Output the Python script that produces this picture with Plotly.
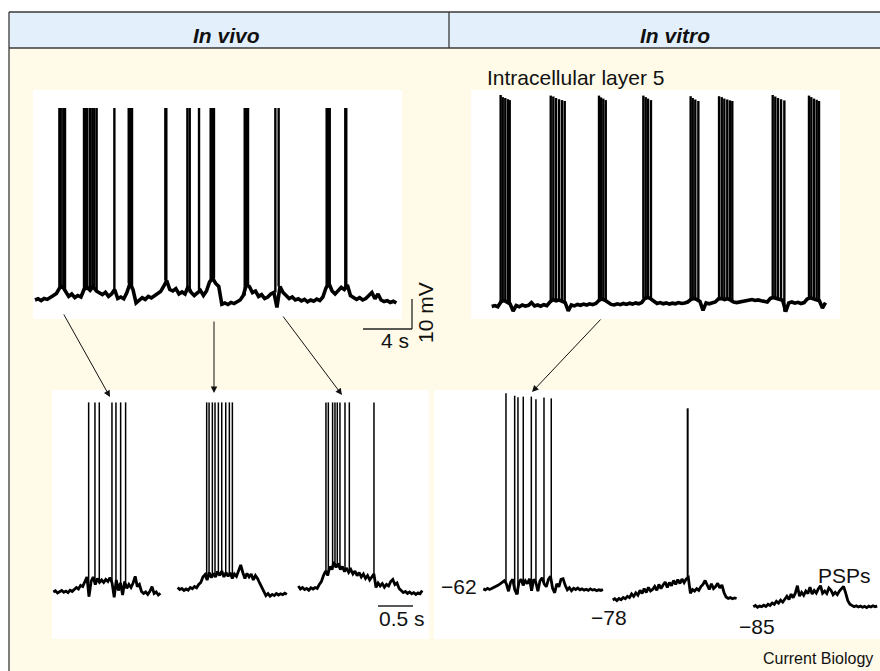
import plotly.graph_objects as go

W, H = 880, 671
FONT = "Liberation Sans, Arial, sans-serif"

# ---------------- DATA (time in s, membrane potential in mV) ----------------
# In vivo, overview trace (sampled every 0.25 s)
vivo_overview_dt = 0.25
vivo_overview_v = [
    -65.0, -64.6, -65.2, -64.5, -64.8, -64.0, -63.5, -62.8, -61.0, -60.5,
    -62.0, -63.8, -63.0, -64.2, -63.5, -64.0, -61.5, -60.8, -61.8, -60.5,
    -62.0, -62.5, -63.2, -62.4, -63.8, -63.0, -61.5, -64.5, -64.0, -64.6,
    -62.5, -59.5, -61.5, -66.0, -65.2, -64.2, -64.8, -63.8, -64.3, -63.6,
    -63.0, -62.2, -60.5, -58.5, -61.5, -62.0, -61.2, -63.0, -62.3, -63.0,
    -60.5, -62.5, -63.5, -62.5, -61.8, -63.5, -62.0, -59.0, -57.8, -59.5,
    -60.5, -66.4, -66.0, -66.5, -65.8, -66.2, -65.5, -65.0, -63.5, -60.0,
    -60.5, -62.5, -62.0, -63.8, -63.2, -64.5, -64.0, -63.0, -62.5, -67.5,
    -60.5, -62.5, -63.5, -64.5, -64.0, -65.0, -64.6, -65.3, -64.8, -65.6,
    -65.0, -65.4, -64.7, -65.2, -64.0, -61.0, -59.5, -62.0, -63.0, -62.0,
    -60.8, -61.5, -60.0, -63.5, -64.0, -64.8, -64.2, -65.0, -64.5, -63.5,
    -62.5, -64.6, -63.0, -65.0, -65.5, -65.2, -65.8, -65.4, -66.0,
]
vivo_overview_spikes = [
    1.99, 2.10, 2.31, 2.45,
    4.00, 4.14, 4.27, 4.49, 4.68, 4.84, 5.03,
    6.48,
    7.65, 7.78, 7.92,
    10.64, 10.72,
    12.44, 12.63,
    13.39,
    14.34, 14.47, 14.61,
    17.12, 17.25, 17.39,
    19.62, 19.89,
    23.81, 23.92, 24.06,
    25.33, 25.41,
]
vivo_overview_peak = -1.0

# In vitro, intracellular layer 5 overview (sampled every 0.25 s)
vitro_overview_dt = 0.25
vitro_overview_v = [
    -65.5, -65.2, -65.6,
    -64.0, -63.5, -64.2, -64.6,
    -67.0,
    -65.2, -65.6, -65.0, -65.4, -65.1, -64.2, -65.3, -65.0, -65.4, -64.9, -65.2,
    -64.0, -63.2, -63.6, -63.3, -63.8, -64.2,
    -67.0,
    -65.0, -65.3, -64.8, -65.1, -64.7, -65.0, -64.6, -64.9, -64.5,
    -63.5, -63.0, -63.4, -64.0,
    -64.8, -65.0, -64.6, -64.9, -64.5, -64.8, -64.4, -64.7, -64.3, -64.6, -64.2,
    -62.8, -62.5, -63.0, -63.8,
    -64.5, -64.2, -64.6, -64.3, -64.7, -64.4, -64.6, -64.2, -64.5, -64.3, -64.0,
    -63.2, -62.8, -63.2, -63.8,
    -66.8,
    -64.3, -64.6, -64.2, -64.0,
    -63.0, -62.8, -63.2, -62.9, -63.4, -64.0,
    -64.2, -64.0, -63.8, -63.6, -63.4, -63.2, -63.5, -63.3, -63.6, -63.8, -64.0,
    -62.8, -62.5, -62.8, -63.0, -63.4,
    -67.2,
    -64.3, -64.0, -64.4, -64.1, -64.5, -64.2,
    -63.0, -62.6, -62.9, -63.2, -63.6,
    -66.0,
    -64.2,
]
vitro_overview_spikes = [
    0.73, 0.90, 1.11, 1.33, 1.47,
    4.82, 5.03, 5.25, 5.50, 5.74, 5.96,
    8.76, 8.92, 9.11, 9.31,
    12.38, 12.57, 12.76, 13.00,
    16.24, 16.41, 16.62, 16.87,
    18.56, 18.78, 18.99, 19.23, 19.45, 19.64,
    22.94, 23.15, 23.37, 23.62, 23.89,
    25.90, 26.09, 26.31, 26.53, 26.72,
]
vitro_overview_peaks = [
    5.0, 4.3, 4.0, 3.6, 3.3,
    4.8, 4.5, 4.0, 3.6, 3.3, 3.0,
    4.8, 4.2, 3.8, 3.3,
    4.8, 4.3, 3.8, 3.3,
    4.6, 4.0, 3.5, 3.0,
    4.6, 4.3, 3.8, 3.5, 3.2, 3.0,
    5.0, 4.5, 4.0, 3.6, 3.2,
    4.8, 4.3, 3.8, 3.4, 3.0,
]

# In vivo, expanded up-states (sampled every 0.03 s)
vivo_zoom_dt = 0.03
vivo_zoom1_v = [
    -65.0, -64.6, -65.3, -65.0, -64.5, -65.1, -64.7, -65.2, -64.4, -64.8,
    -64.0, -63.5, -64.0, -62.8, -63.2, -61.5, -60.0, -66.5, -61.5, -60.0,
    -62.5, -60.5, -61.8, -61.0, -61.8, -60.8, -61.5, -60.2, -62.0, -66.8,
    -61.0, -64.5, -62.0, -66.0, -61.5, -63.8, -62.5, -63.5, -62.0, -59.8,
    -63.2, -62.5, -64.8, -65.5, -65.0, -65.8, -64.8, -63.2, -65.5, -65.0,
    -66.0, -65.4,
]
vivo_zoom1_spikes = [0.505, 0.595, 0.657, 0.838, 0.895, 0.962, 1.033]
vivo_zoom2_v = [
    -63.5, -64.2, -63.8, -64.5, -64.0, -64.4, -63.5, -63.9, -63.2, -63.6,
    -62.5, -61.8, -60.0, -59.2, -61.0, -58.5, -60.2, -58.8, -60.0, -58.2,
    -59.5, -58.0, -60.0, -58.5, -59.8, -58.6, -60.5, -59.0, -59.8, -58.0,
    -56.0, -58.5, -60.5, -58.8, -60.0, -59.0, -61.0, -59.5, -60.5, -62.0,
    -63.5, -64.5, -66.2, -65.5, -66.4, -65.8, -66.2, -65.5, -66.0, -65.6,
    -65.9, -65.4, -65.8,
]
vivo_zoom2_spikes = [0.414, 0.448, 0.495, 0.533, 0.581, 0.629, 0.686, 0.738, 0.781]
vivo_zoom3_v = [
    -63.0, -64.0, -63.5, -64.2, -63.8, -64.4, -63.6, -64.0, -63.5, -63.8,
    -62.5, -61.5, -59.5, -58.0, -59.5, -56.5, -57.5, -55.0, -56.8, -55.5,
    -57.5, -56.5, -58.2, -57.0, -58.5, -57.5, -59.0, -58.0, -59.6, -58.5,
    -60.0, -59.0, -60.5, -59.5, -61.0, -59.8, -59.0, -63.5, -62.0, -63.0,
    -62.2, -63.4, -62.5, -63.0, -61.5, -60.8, -62.5, -62.0, -63.8, -64.5,
    -65.2, -64.8, -65.5, -65.0, -65.6, -65.2, -65.8, -65.3, -65.6, -64.5,
]
vivo_zoom3_spikes = [0.395, 0.429, 0.490, 0.524, 0.557, 0.595, 0.667, 0.729, 1.081]
vivo_zoom_peak = -1.8

# In vitro, expanded at three holding potentials (sampled every 0.03 s)
vitro_zoom_dt = 0.03
vitro_rest_labels = ["\u221262", "\u221278", "\u221285"]
vitro_m62_v = [
    -62.2, -62.5, -62.0, -62.4, -62.1, -61.8, -61.5, -61.0, -60.5, -60.0,
    -59.5, -60.5, -63.0, -60.0, -59.0, -62.5, -64.0, -60.0, -59.0, -61.0,
    -59.5, -60.5, -58.8, -62.8, -59.0, -60.0, -63.0, -59.5, -58.5, -60.5,
    -61.5, -59.0, -58.0, -62.0, -63.5, -60.5, -61.5, -59.0, -58.8, -61.0,
    -62.5, -61.8, -62.8, -62.0, -62.4, -61.9, -62.5, -62.2, -62.6, -62.3,
    -62.7, -62.2, -62.6, -62.4, -62.8, -62.5, -62.7, -62.4,
]
vitro_m62_spikes = [0.324, 0.448, 0.495, 0.571, 0.686, 0.752, 0.867, 0.971]
vitro_m62_peaks = [3.0, 2.2, 1.7, 1.9, 1.9, 1.0, 1.6, 1.3]
vitro_m78_v = [
    -78.0, -77.6, -78.2, -77.5, -77.9, -77.2, -77.6, -76.8, -77.2, -76.0,
    -76.8, -75.6, -76.4, -74.8, -75.8, -74.2, -75.5, -73.8, -75.0, -74.5,
    -73.5, -74.8, -72.8, -74.2, -73.0, -72.0, -73.8, -72.2, -73.2, -71.5,
    -72.8, -71.2, -72.5, -71.0, -72.2, -71.0, -70.5, -75.8, -74.5, -75.0,
    -74.2, -74.8, -73.5, -72.8, -71.5, -73.0, -74.5, -72.6, -74.2, -73.5,
    -72.4, -74.0, -73.0, -75.5, -77.0, -77.5, -77.2, -77.6, -77.3, -77.5,
]
vitro_m78_spikes = [1.071]
vitro_m78_peaks = [-14.1]
vitro_m85_v = [
    -85.0, -84.6, -85.2, -84.8, -85.0, -84.5, -84.9, -84.2, -84.6, -83.8,
    -84.2, -83.2, -83.8, -82.8, -83.5, -82.5, -81.5, -82.6, -80.8, -82.0,
    -80.5, -78.0, -81.5, -80.2, -81.2, -79.8, -80.6, -78.5, -80.8, -79.6,
    -80.5, -79.0, -78.0, -80.5, -79.8, -80.6, -78.8, -79.5, -81.0, -80.2,
    -81.0, -79.8, -79.0, -78.2, -80.5, -83.0, -84.2, -84.6, -85.0, -84.7,
    -85.1, -84.8, -85.2, -84.9, -85.3, -84.8, -85.1, -84.7, -85.0, -84.8,
]
vitro_m85_spikes = []
vitro_m85_peaks = []

# ---------------- LAYOUT HELPERS ----------------
def px(x):
    return x / W


def py(y):
    return 1 - y / H


fig = go.Figure()
shapes = []
annotations = []
layout_axes = {}

CREAM = "#FFFBE8"
HEADBLUE = "#E3F0FB"
BORDER = "#3a3a3a"

# backgrounds
shapes.append(dict(type="rect", xref="paper", yref="paper", x0=px(9), x1=1.0,
                   y0=0.0, y1=py(48), fillcolor=CREAM, line=dict(width=0), layer="below"))
shapes.append(dict(type="rect", xref="paper", yref="paper", x0=px(9), x1=1.0,
                   y0=py(48), y1=py(12), fillcolor=HEADBLUE, line=dict(width=0), layer="below"))
white_boxes = [(33, 90, 402, 319), (471, 90, 840, 319), (52, 390, 429, 639), (434, 390, 880, 639)]
for (x0, y0, x1, y1) in white_boxes:
    shapes.append(dict(type="rect", xref="paper", yref="paper", x0=px(x0), x1=px(x1),
                       y0=py(y1), y1=py(y0), fillcolor="white", line=dict(width=0), layer="below"))

# frame lines
for (x0, y0, x1, y1) in [(9, 12, 9, 671), (9, 12, 880, 12), (9, 48, 880, 48), (449, 12, 449, 48)]:
    shapes.append(dict(type="line", xref="paper", yref="paper", x0=px(x0), x1=px(x1),
                       y0=py(y0), y1=py(y1), line=dict(color=BORDER, width=1.3)))

# scale bars
for (x0, y0, x1, y1) in [(363, 329, 412, 329), (412, 299, 412, 329), (378, 606, 413, 606)]:
    shapes.append(dict(type="line", xref="paper", yref="paper", x0=px(x0), x1=px(x1),
                       y0=py(y0), y1=py(y1), line=dict(color="#222", width=1.3)))


def add_panel(idx, t0, dt, vals, spikes, peaks, box, xa, sx, ya, vref, sy,
              base_w=2.2, spike_w=1.5):
    xname = "x" if idx == 1 else "x%d" % idx
    yname = "y" if idx == 1 else "y%d" % idx
    xkey = "xaxis" if idx == 1 else "xaxis%d" % idx
    ykey = "yaxis" if idx == 1 else "yaxis%d" % idx
    times = [t0 + i * dt for i in range(len(vals))]
    fig.add_trace(go.Scatter(x=times, y=vals, mode="lines", xaxis=xname, yaxis=yname,
                             line=dict(color="black", width=base_w), hoverinfo="skip",
                             showlegend=False))
    sxs, sys_ = [], []
    for ts, pk in zip(spikes, peaks):
        k = min(len(vals) - 1, max(0, int(round((ts - t0) / dt))))
        sxs += [ts, ts, None]
        sys_ += [vals[k], pk, None]
    if sxs:
        fig.add_trace(go.Scatter(x=sxs, y=sys_, mode="lines", xaxis=xname, yaxis=yname,
                                 line=dict(color="black", width=spike_w), hoverinfo="skip",
                                 showlegend=False))
    bx0, by0, bx1, by1 = box
    layout_axes[xkey] = dict(domain=[px(bx0), px(bx1)],
                             range=[(bx0 - xa) / sx, (bx1 - xa) / sx],
                             visible=False, fixedrange=True, anchor=yname)
    layout_axes[ykey] = dict(domain=[py(by1), py(by0)],
                             range=[vref - (by1 - ya) / sy, vref - (by0 - ya) / sy],
                             visible=False, fixedrange=True, anchor=xname)


PX_PER_S_SLOW = 12.25
PX_PER_S_FAST = 70.0
PX_PER_MV = 3.0

add_panel(1, 0.0, vivo_overview_dt, vivo_overview_v, vivo_overview_spikes,
          [vivo_overview_peak] * len(vivo_overview_spikes),
          (33, 90, 402, 319), 35, PX_PER_S_SLOW, 300, -65, PX_PER_MV, base_w=3.6, spike_w=2.4)
add_panel(2, 0.0, vitro_overview_dt, vitro_overview_v, vitro_overview_spikes, vitro_overview_peaks,
          (471, 90, 840, 319), 491.7, PX_PER_S_SLOW, 305, -65, PX_PER_MV, base_w=3.6, spike_w=2.4)
add_panel(3, 0.0, vivo_zoom_dt, vivo_zoom1_v, vivo_zoom1_spikes,
          [vivo_zoom_peak] * len(vivo_zoom1_spikes),
          (52, 390, 168, 639), 53.3, PX_PER_S_FAST, 592, -65, PX_PER_MV, base_w=2.8)
add_panel(4, 0.0, vivo_zoom_dt, vivo_zoom2_v, vivo_zoom2_spikes,
          [vivo_zoom_peak] * len(vivo_zoom2_spikes),
          (170, 390, 292, 639), 177.7, PX_PER_S_FAST, 592, -65, PX_PER_MV, base_w=2.8)
add_panel(5, 0.0, vivo_zoom_dt, vivo_zoom3_v, vivo_zoom3_spikes,
          [vivo_zoom_peak] * len(vivo_zoom3_spikes),
          (294, 390, 429, 639), 298.3, PX_PER_S_FAST, 592, -65, PX_PER_MV, base_w=2.8)
add_panel(6, 0.0, vitro_zoom_dt, vitro_m62_v, vitro_m62_spikes, vitro_m62_peaks,
          (434, 390, 608, 639), 483.3, PX_PER_S_FAST, 588.3, -62, PX_PER_MV, base_w=2.8)
add_panel(7, 0.0, vitro_zoom_dt, vitro_m78_v, vitro_m78_spikes, vitro_m78_peaks,
          (610, 390, 745, 639), 612.7, PX_PER_S_FAST, 600, -78, PX_PER_MV, base_w=2.8, spike_w=2.0)
add_panel(8, 0.0, vitro_zoom_dt, vitro_m85_v, vitro_m85_spikes, vitro_m85_peaks,
          (748, 390, 880, 639), 753.3, PX_PER_S_FAST, 606.7, -85, PX_PER_MV, base_w=2.8)


def text(x, y, s, size=21, xanchor="center", angle=0, bold_italic=False, color="#111"):
    if bold_italic:
        s = "<b><i>%s</i></b>" % s
    annotations.append(dict(x=px(x), y=py(y), xref="paper", yref="paper", text=s,
                            showarrow=False, xanchor=xanchor, yanchor="middle",
                            textangle=angle, font=dict(family=FONT, size=size, color=color)))


text(226, 35, "In vivo", bold_italic=True)
text(675, 35, "In vitro", bold_italic=True)
text(485, 77, "Intracellular layer 5", xanchor="left")
text(395, 340, "4 s")
text(425, 313, "10 mV", angle=-90)
text(402, 618, "0.5 s")
text(459, 586, vitro_rest_labels[0])
text(609, 617, vitro_rest_labels[1])
text(757, 626, vitro_rest_labels[2])
text(844, 575, "PSPs")
text(875, 658, "Current Biology", size=16, xanchor="right")

# arrows (tail -> head), pixel coordinates
for (tx, ty, hx, hy) in [(63, 313, 110, 397), (214, 320, 214, 393),
                         (282, 315, 342, 395), (602, 318, 532, 392)]:
    annotations.append(dict(x=px(hx), y=py(hy), xref="paper", yref="paper", text="",
                            showarrow=True, ax=tx - hx, ay=ty - hy, arrowhead=2,
                            arrowsize=1.3, arrowwidth=1, arrowcolor="#111", standoff=0))

fig.update_layout(
    width=W, height=H,
    margin=dict(l=0, r=0, t=0, b=0),
    paper_bgcolor="white",
    plot_bgcolor="rgba(0,0,0,0)",
    shapes=shapes,
    annotations=annotations,
    showlegend=False,
    **layout_axes,
)

fig.write_html("out.html", config={"displayModeBar": False},
               post_script="document.body.style.margin='0';document.body.style.overflow='hidden';")
